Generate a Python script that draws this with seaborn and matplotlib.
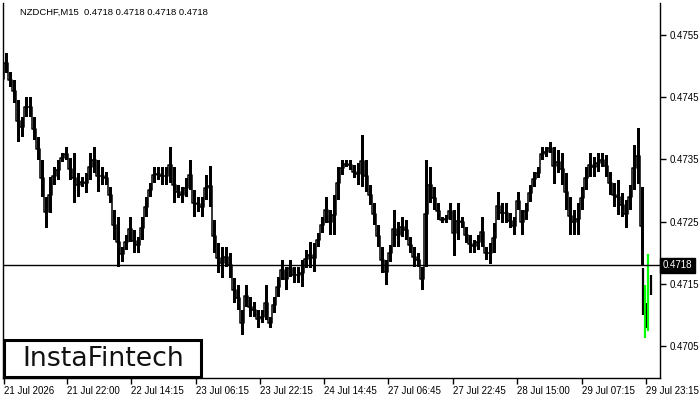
import numpy as np
import pandas as pd
import seaborn as sns
import matplotlib.pyplot as plt
from matplotlib.patches import Rectangle
import matplotlib.transforms as mtransforms

sns.set_theme(style="white")
plt.rcParams['font.family'] = ['Liberation Sans', 'DejaVu Sans']

# hourly high / low (each block = 4 M15 bars)
hi = [0.47502, 0.47521, 0.47491, 0.47478, 0.47446, 0.47418, 0.47450, 0.47450, 0.47418, 0.47386,
      0.47349, 0.47290, 0.47322, 0.47338, 0.47349, 0.47360, 0.47370, 0.47352, 0.47360, 0.47328,
      0.47322, 0.47328, 0.47360, 0.47370, 0.47349, 0.47338, 0.47330, 0.47306, 0.47269, 0.47258,
      0.47209, 0.47229, 0.47258, 0.47237, 0.47226, 0.47258, 0.47290, 0.47312, 0.47338, 0.47338,
      0.47338, 0.47338, 0.47370, 0.47338, 0.47309, 0.47306, 0.47320, 0.47349, 0.47301, 0.47290,
      0.47290, 0.47325, 0.47340, 0.47253, 0.47216, 0.47209, 0.47209, 0.47200, 0.47160, 0.47148,
      0.47108, 0.47148, 0.47129, 0.47121, 0.47108, 0.47108, 0.47148, 0.47097, 0.47129, 0.47161,
      0.47189, 0.47177, 0.47189, 0.47177, 0.47177, 0.47189, 0.47205, 0.47217, 0.47216, 0.47232,
      0.47258, 0.47290, 0.47269, 0.47293, 0.47338, 0.47349, 0.47349, 0.47349, 0.47341, 0.47344,
      0.47389, 0.47349, 0.47309, 0.47280, 0.47245, 0.47209, 0.47189, 0.47213, 0.47269, 0.47250,
      0.47258, 0.47253, 0.47226, 0.47209, 0.47200, 0.47177, 0.47349, 0.47338, 0.47306, 0.47280,
      0.47258, 0.47261, 0.47280, 0.47269, 0.47280, 0.47258, 0.47242, 0.47229, 0.47221, 0.47229,
      0.47258, 0.47209, 0.47216, 0.47248, 0.47298, 0.47280, 0.47280, 0.47264, 0.47258, 0.47298,
      0.47269, 0.47280, 0.47309, 0.47330, 0.47338, 0.47370, 0.47370, 0.47378, 0.47370, 0.47365,
      0.47360, 0.47328, 0.47290, 0.47269, 0.47280, 0.47306, 0.47338, 0.47360, 0.47354, 0.47360,
      0.47360, 0.47357, 0.47330, 0.47312, 0.47317, 0.47296, 0.47285, 0.47309, 0.47373, 0.47400,
      0.47306]
lo = [0.47458, 0.47489, 0.47466, 0.47441, 0.47378, 0.47386, 0.47418, 0.47418, 0.47381, 0.47349,
      0.47290, 0.47240, 0.47264, 0.47309, 0.47317, 0.47346, 0.47349, 0.47317, 0.47280, 0.47290,
      0.47306, 0.47296, 0.47317, 0.47328, 0.47298, 0.47309, 0.47309, 0.47280, 0.47221, 0.47177,
      0.47186, 0.47205, 0.47218, 0.47200, 0.47200, 0.47221, 0.47258, 0.47290, 0.47312, 0.47317,
      0.47309, 0.47309, 0.47312, 0.47280, 0.47288, 0.47280, 0.47290, 0.47301, 0.47258, 0.47266,
      0.47258, 0.47285, 0.47274, 0.47200, 0.47168, 0.47160, 0.47177, 0.47160, 0.47120, 0.47108,
      0.47068, 0.47113, 0.47097, 0.47097, 0.47079, 0.47087, 0.47092, 0.47079, 0.47103, 0.47129,
      0.47157, 0.47140, 0.47161, 0.47152, 0.47152, 0.47145, 0.47175, 0.47175, 0.47169, 0.47209,
      0.47232, 0.47248, 0.47229, 0.47229, 0.47285, 0.47325, 0.47338, 0.47333, 0.47320, 0.47309,
      0.47306, 0.47298, 0.47277, 0.47245, 0.47209, 0.47168, 0.47148, 0.47186, 0.47209, 0.47209,
      0.47226, 0.47221, 0.47200, 0.47177, 0.47177, 0.47140, 0.47177, 0.47280, 0.47269, 0.47253,
      0.47248, 0.47248, 0.47253, 0.47195, 0.47221, 0.47240, 0.47216, 0.47200, 0.47200, 0.47205,
      0.47209, 0.47189, 0.47182, 0.47200, 0.47253, 0.47248, 0.47248, 0.47240, 0.47229, 0.47269,
      0.47229, 0.47253, 0.47282, 0.47306, 0.47320, 0.47349, 0.47354, 0.47360, 0.47310, 0.47328,
      0.47309, 0.47269, 0.47229, 0.47229, 0.47229, 0.47269, 0.47301, 0.47322, 0.47322, 0.47330,
      0.47338, 0.47322, 0.47293, 0.47274, 0.47261, 0.47258, 0.47240, 0.47269, 0.47301, 0.47310,
      0.47180]

# last few M15 bars
tail_pos = [643, 644.5, 647, 648, 651]
tail_hi = [0.47175, 0.47148, 0.47120, 0.47198, 0.47165]
tail_lo = [0.47100, 0.47063, 0.47080, 0.47075, 0.47132]
tail_col = ["black", "#00ff00", "black", "#00ff00", "black"]

last_price = 0.4718
y_ticks = [0.4705, 0.4715, 0.4725, 0.4735, 0.4745, 0.4755]
x_tick_pos = [4, 67, 131, 196, 260, 324, 388, 453, 517, 582, 646]
x_tick_labels = ["21 Jul 2026", "21 Jul 22:00", "22 Jul 14:15", "23 Jul 06:15", "23 Jul 22:15",
                 "24 Jul 14:45", "27 Jul 06:45", "27 Jul 22:45", "28 Jul 15:00", "29 Jul 07:15",
                 "29 Jul 23:15"]

df = pd.DataFrame({"bar": np.arange(len(hi)) * 4 + 2, "high": hi, "low": lo})
df["mid"] = (df["high"] + df["low"]) / 2

fig = plt.figure(figsize=(7, 4), dpi=100)
ax = fig.add_axes([3 / 700, 22 / 400, 657 / 700, 375 / 400])

ax.bar(df["bar"], df["high"] - df["low"], bottom=df["low"], width=3,
       color="black", linewidth=0)
sns.lineplot(data=df, x="bar", y="mid", ax=ax, color="black", lw=1.1,
             drawstyle="steps-mid")
ax.vlines(tail_pos, tail_lo, tail_hi, colors=tail_col, linewidth=1.6)

ax.axhline(last_price, color="black", lw=1)

ax.set_xlim(3, 660)
ax.set_ylim(0.46999, 0.476014)
ax.set_xlabel("")
ax.set_ylabel("")

ax.yaxis.tick_right()
ax.set_yticks(y_ticks)
ax.set_yticklabels([f"{v:.4f}" for v in y_ticks])
ax.set_xticks(x_tick_pos)
ax.set_xticklabels(x_tick_labels, ha="left")
ax.tick_params(axis="both", direction="out", length=4, width=1, colors="black",
               labelsize=7, pad=2)
ax.tick_params(axis="x", bottom=True)
ax.tick_params(axis="y", right=True, pad=3)

for s in ["left", "right", "bottom"]:
    ax.spines[s].set_visible(True)
    ax.spines[s].set_color("black")
    ax.spines[s].set_linewidth(1)
ax.spines["top"].set_visible(False)

# current price label
trans = mtransforms.blended_transform_factory(ax.transAxes, ax.transData)
ax.text(1.004, last_price, "0.4718", transform=trans, ha="left", va="center",
        color="white", fontsize=7,
        bbox=dict(boxstyle="square,pad=0.25", fc="black", ec="black"))

ax.text(17 / 657, 1 - 9 / 375, "NZDCHF,M15  0.4718 0.4718 0.4718 0.4718",
        transform=ax.transAxes, ha="left", va="center", fontsize=6.8, color="black")

# logo box
fig.add_artist(Rectangle((4 / 700, 23 / 400), 197 / 700, 37 / 400, transform=fig.transFigure,
                         facecolor="white", edgecolor="black", linewidth=2.2, zorder=5))
fig.text(22 / 700, 41 / 400, "InstaFintech", ha="left", va="center", fontsize=19.3,
         family="DejaVu Sans", color="#111111", zorder=6)

fig.savefig("out.png", dpi=100)
